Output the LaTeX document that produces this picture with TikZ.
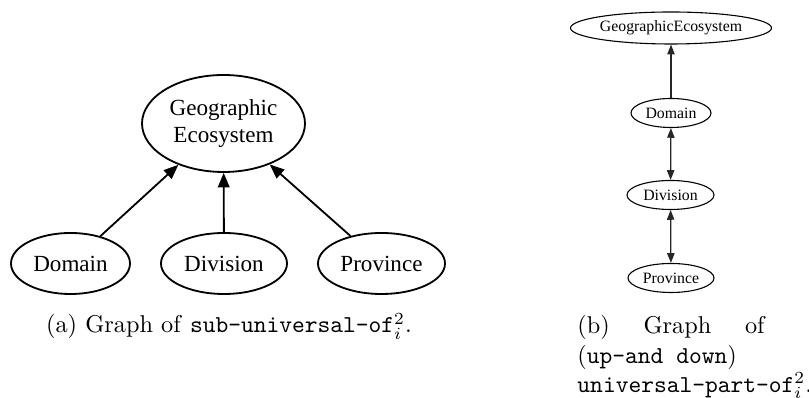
\documentclass[tikz,border=0pt]{standalone}
\usepackage{fontspec}
\usetikzlibrary{shapes.geometric,arrows.meta}
\newfontfamily\tmfont{Liberation Serif}
\newdimen\pxu \pxu=0.4115pt
\begin{document}
\begin{tikzpicture}[x=0.4115pt,y=-0.4115pt,
  bigell/.style={ellipse,draw,line width=0.75pt,inner sep=0pt,font=\tmfont\fontsize{9.5pt}{11pt}\selectfont,align=center},
  smallell/.style={ellipse,draw,line width=0.45pt,inner sep=0pt,font=\tmfont\fontsize{6.5pt}{8pt}\selectfont},
  bigarr/.style={line width=0.75pt,-{Triangle[length=6pt,width=4.8pt]}},
  smallarr/.style={line width=0.5pt,draw=black!85,-{Triangle[length=4pt,width=3pt]}},
  smallarr2/.style={line width=0.5pt,draw=black!85,{Triangle[length=4pt,width=3pt]}-{Triangle[length=4pt,width=3pt]}}]
\useasboundingbox (0,0) rectangle (809,398);
% (a)
\node[bigell,minimum width=163\pxu,minimum height=97\pxu] (geA) at (223.5,123.5) {Geographic\\Ecosystem};
\node[bigell,minimum width=119\pxu,minimum height=61\pxu] (domA) at (70.5,263.5) {Domain};
\node[bigell,minimum width=126\pxu,minimum height=61\pxu] (divA) at (224,263.5) {Division};
\node[bigell,minimum width=127\pxu,minimum height=61\pxu] (proA) at (381.5,263.5) {Province};
\draw[bigarr] (domA) -- (geA);
\draw[bigarr] (divA) -- (geA);
\draw[bigarr] (proA) -- (geA);
\node[anchor=base,inner sep=0pt] (capA) at (229,333) {(a) Graph of \texttt{sub-universal-of}$^2_i$.};
% (b)
\node[smallell,minimum width=174\pxu,minimum height=32\pxu] (geB) at (671,28) {GeographicEcosystem};
\node[smallell,minimum width=80\pxu,minimum height=29\pxu] (domB) at (671,113) {Domain};
\node[smallell,minimum width=87\pxu,minimum height=29\pxu] (divB) at (670.5,195) {Division};
\node[smallell,minimum width=86\pxu,minimum height=29\pxu] (proB) at (671,278) {Province};
\draw[smallarr] (domB) -- (geB);
\draw[smallarr2] (domB) -- (divB);
\draw[smallarr2] (divB) -- (proB);
\node[anchor=base west,inner sep=0pt,text width=77pt,align=justify] (capB) at (577,334)
  {(b) Graph of \linebreak (\texttt{up-and down}) \linebreak \texttt{universal-part-of}$^2_i$.};
\end{tikzpicture}
\end{document}
